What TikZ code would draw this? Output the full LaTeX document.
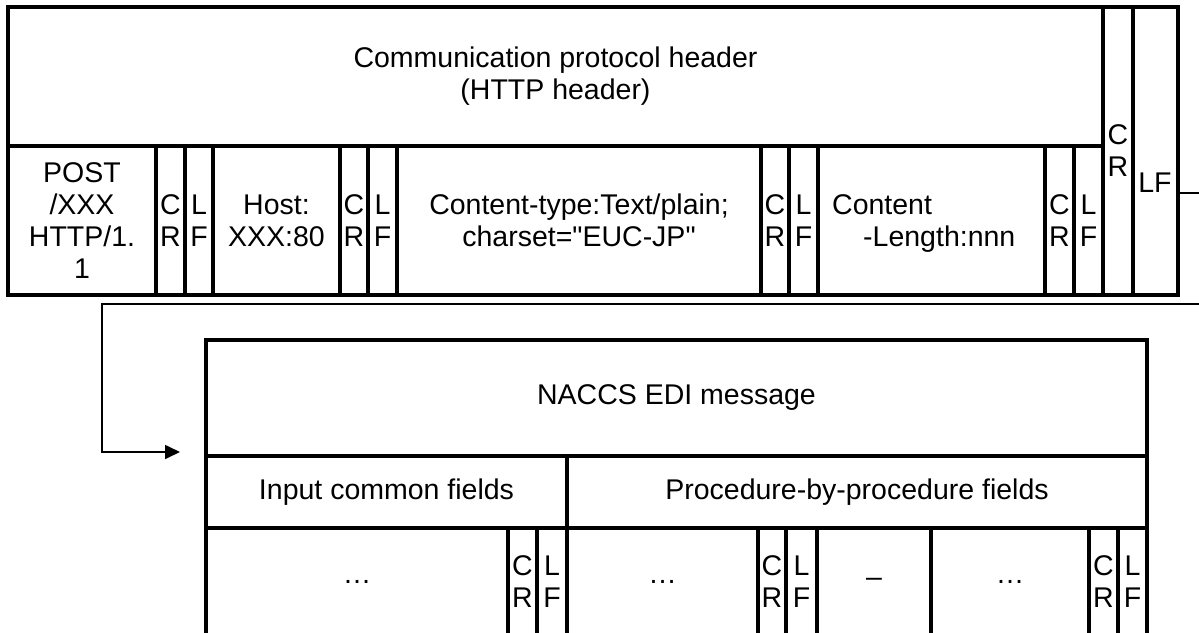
\documentclass[tikz,border=0pt]{standalone}
\usepackage{fontspec}
\setmainfont{Liberation Sans}[Ligatures=TeXOff]
\usetikzlibrary{arrows.meta}
\tikzset{
  cellst/.style={draw, line width=3.3pt, inner sep=0pt, align=center, font=\fontsize{28.5}{32}\selectfont},
  txt/.style={inner sep=0pt, align=center, font=\fontsize{28.5}{32}\selectfont},
  conn/.style={line width=1.7pt},
}
\newcommand\cellbox[6]{\node[cellst, minimum width={#4pt-#2pt}, minimum height={#5pt-#3pt}] (#1) at ({(#2+#4)/2},{(#3+#5)/2}) {#6};}
\begin{document}
\begin{tikzpicture}[x=1pt,y=-1pt]
\useasboundingbox (0,0) rectangle (1199,632);
\fill[white] (0,0) rectangle (1199,632);
\clip (0,0) rectangle (1199,632);
% top block
\cellbox{hdr}{8}{7}{1103}{146}{Communication protocol header\\(HTTP header)}
\cellbox{post}{8}{146}{156}{295}{POST\\/XXX\\HTTP/1.\\1}
\cellbox{crA}{156}{146}{185}{295}{C\\R}
\cellbox{lfA}{185}{146}{213}{295}{L\\F}
\cellbox{host}{213}{146}{340}{295}{Host:\\XXX:80}
\cellbox{crB}{340}{146}{368}{295}{C\\R}
\cellbox{lfB}{368}{146}{397}{295}{L\\F}
\cellbox{ctype}{397}{146}{761}{295}{Content-type:Text/plain;\\charset="EUC-JP"}
\cellbox{crC}{761}{146}{789}{295}{C\\R}
\cellbox{lfC}{789}{146}{818}{295}{L\\F}
\cellbox{clen}{818}{146}{1045}{295}{}
\node[txt, anchor=base west, align=left] (clentxt) at (832,246) {Content\\\hspace*{31pt}-Length:nnn};
\cellbox{crD}{1045}{146}{1074}{295}{C\\R}
\cellbox{lfD}{1074}{146}{1103}{295}{L\\F}
\cellbox{crR}{1103}{7}{1133}{295}{C\\R}
\cellbox{lfR}{1133}{7}{1178}{295}{}
\node[txt, anchor=base] (lfRtxt) at (1155,192) {LF};
% bottom block
\cellbox{naccs}{206}{340}{1147}{456}{NACCS EDI message}
\cellbox{icf}{206}{456}{567}{528}{Input common fields}
\cellbox{pbp}{567}{456}{1147}{528}{Procedure-by-procedure fields}
\cellbox{dA}{206}{528}{508}{636}{…}
\cellbox{crE}{508}{528}{537}{636}{C\\R}
\cellbox{lfE}{537}{528}{567}{636}{L\\F}
\cellbox{dB}{567}{528}{758}{636}{…}
\cellbox{crF}{758}{528}{786}{636}{C\\R}
\cellbox{lfF}{786}{528}{817}{636}{L\\F}
\cellbox{dash}{817}{528}{931}{636}{–}
\cellbox{dC}{931}{528}{1089}{636}{…}
\cellbox{crG}{1089}{528}{1118}{636}{C\\R}
\cellbox{lfG}{1118}{528}{1147}{636}{L\\F}
% connector
\coordinate (turnR) at (1230,304);
\coordinate (turnL) at (102,304);
\coordinate (arrowEnd) at (180,452);
\draw[conn, -{Triangle[length=15pt,width=14pt]}]
  (lfR.east |- 0,193) -- (turnR |- 0,193) -- (turnR) -- (turnL) -- (turnL |- arrowEnd) -- (arrowEnd);
\end{tikzpicture}
\end{document}
